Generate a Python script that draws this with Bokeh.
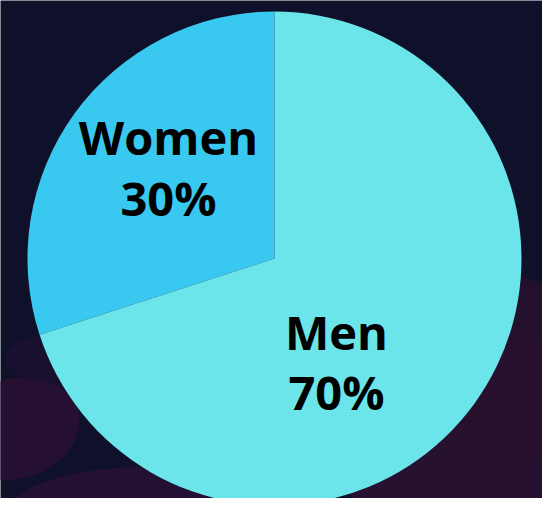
import numpy as np
from bokeh.plotting import figure
from bokeh.core.properties import value
from bokeh.embed import file_html
from bokeh.resources import INLINE

# data
categories = ["Women", "Men"]
shares = [30, 70]
pct_labels = ["30%", "70%"]
colors = ["#39C9F0", "#6BE5E9"]

W, H = 542, 498
p = figure(width=W, height=H, x_range=(0, W), y_range=(0, H),
           output_backend="svg", toolbar_location=None,
           min_border=0, outline_line_color=None,
           background_fill_color="#0E1129", border_fill_color="#0E1129")
p.axis.visible = False
p.grid.visible = False

# subtle background blobs (decor)
p.ellipse(x=[15, 110, 470, 520, 60], y=[70, 0, 50, 130, 140],
          width=[130, 200, 260, 160, 110], height=[100, 60, 240, 200, 50],
          angle=[0.3, 0.1, 0.8, 0.6, 0.0],
          fill_color=["#2A1032", "#281134", "#2C1231", "#27102E", "#1B1030"],
          fill_alpha=0.85, line_color=None)

cx, cy, r = 274, 240, 247
vals = np.array(shares, dtype=float)
frac = vals / vals.sum()
ends = np.cumsum(frac) * 2 * np.pi
starts = np.concatenate([[0], ends[:-1]])
start_angles = np.pi / 2 + starts
end_angles = np.pi / 2 + ends

p.wedge(x=cx, y=cy, radius=r, start_angle=start_angles, end_angle=end_angles,
        direction="anticlock", fill_color=colors, line_color=None)

label_x = [168, 336]
name_y = [362, 167]
pct_y = [301, 107]

p.text(x=label_x, y=name_y, text=categories, text_align="center",
       text_baseline="alphabetic", text_font=value("Open Sans"),
       text_font_style="bold", text_font_size="47px", text_color="#000000")
p.text(x=label_x, y=pct_y, text=pct_labels, text_align="center",
       text_baseline="alphabetic", text_font=value("Open Sans"),
       text_font_style="bold", text_font_size="47px", text_color="#000000")

open("out.html", "w").write(file_html(p, INLINE))
